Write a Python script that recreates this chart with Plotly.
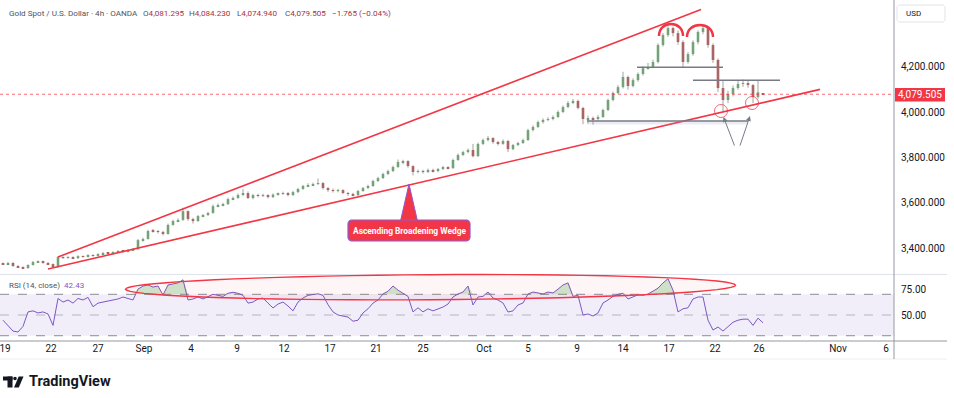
import math
import plotly.graph_objects as go

# ---------------- data (4h candles, sampled) ----------------
closes = [3329, 3334, 3320, 3316, 3311, 3325, 3338, 3340, 3334, 3329,
          3316, 3360, 3356, 3360, 3355, 3364, 3361, 3369, 3365, 3373,
          3378, 3374, 3382, 3387, 3383, 3391, 3395, 3435, 3440, 3475,
          3474, 3471, 3462, 3502, 3519, 3524, 3563, 3528, 3519, 3541,
          3546, 3555, 3585, 3590, 3594, 3616, 3621, 3634, 3643, 3621,
          3634, 3630, 3634, 3625, 3636, 3639, 3643, 3634, 3647, 3661,
          3674, 3678, 3683, 3687, 3665, 3656, 3652, 3656, 3643, 3639,
          3634, 3652, 3665, 3674, 3696, 3709, 3727, 3740, 3758, 3780,
          3784, 3762, 3736, 3740, 3736, 3745, 3740, 3749, 3758, 3753,
          3789, 3811, 3824, 3833, 3806, 3860, 3877, 3886, 3868, 3860,
          3873, 3837, 3855, 3864, 3877, 3921, 3935, 3957, 3966, 3970,
          3979, 4001, 4023, 4041, 4050, 4019, 3970, 3974, 3970, 3979,
          4010, 4054, 4085, 4111, 4156, 4116, 4142, 4169, 4195, 4200,
          4222, 4297, 4341, 4372, 4350, 4310, 4222, 4257, 4310, 4355,
          4372, 4297, 4231, 4107, 4054, 4081, 4107, 4125, 4129, 4120,
          4067, 4088, 4079.505]

opens = [3332, 3329, 3334, 3320, 3316, 3311, 3325, 3338, 3340, 3334,
         3329, 3316, 3360, 3356, 3360, 3355, 3364, 3361, 3369, 3365,
         3373, 3378, 3374, 3382, 3387, 3383, 3391, 3395, 3435, 3440,
         3475, 3474, 3471, 3462, 3502, 3519, 3524, 3563, 3528, 3519,
         3541, 3546, 3555, 3585, 3590, 3594, 3616, 3621, 3634, 3643,
         3621, 3634, 3630, 3634, 3625, 3636, 3639, 3643, 3634, 3647,
         3661, 3674, 3678, 3683, 3687, 3665, 3656, 3652, 3656, 3643,
         3639, 3634, 3652, 3665, 3674, 3696, 3709, 3727, 3740, 3758,
         3780, 3784, 3762, 3736, 3740, 3736, 3745, 3740, 3749, 3758,
         3753, 3789, 3811, 3824, 3833, 3806, 3860, 3877, 3886, 3868,
         3860, 3873, 3837, 3855, 3864, 3877, 3921, 3935, 3957, 3966,
         3970, 3979, 4001, 4023, 4041, 4050, 4019, 3970, 3974, 3970,
         3979, 4010, 4054, 4085, 4111, 4156, 4116, 4142, 4169, 4195,
         4200, 4222, 4297, 4341, 4372, 4350, 4310, 4222, 4257, 4310,
         4355, 4372, 4297, 4231, 4107, 4054, 4081, 4107, 4125, 4129,
         4120, 4067, 4081.295]

highs = [3336, 3338, 3337, 3324, 3319, 3328, 3343, 3345, 3344, 3338,
         3332, 3365, 3364, 3364, 3363, 3368, 3367, 3373, 3372, 3377,
         3383, 3381, 3386, 3391, 3390, 3395, 3400, 3440, 3446, 3481,
         3484, 3480, 3476, 3508, 3525, 3531, 3578, 3566, 3534, 3546,
         3551, 3560, 3592, 3597, 3600, 3622, 3628, 3641, 3660, 3650,
         3639, 3640, 3640, 3638, 3641, 3645, 3649, 3647, 3652, 3666,
         3679, 3686, 3689, 3707, 3692, 3670, 3663, 3662, 3660, 3648,
         3644, 3657, 3670, 3680, 3702, 3715, 3733, 3746, 3764, 3791,
         3790, 3788, 3766, 3747, 3746, 3751, 3750, 3754, 3763, 3762,
         3795, 3818, 3830, 3840, 3860, 3866, 3884, 3895, 3890, 3874,
         3880, 3878, 3860, 3870, 3883, 3927, 3942, 3963, 3973, 3978,
         3986, 4008, 4030, 4050, 4059, 4056, 4024, 3985, 3981, 3988,
         4016, 4060, 4092, 4120, 4179, 4162, 4150, 4176, 4203, 4218,
         4232, 4305, 4350, 4380, 4378, 4362, 4318, 4266, 4318, 4362,
         4381, 4378, 4305, 4238, 4140, 4095, 4118, 4140, 4145, 4140,
         4125, 4141, 4084.23]

lows = [3325, 3327, 3317, 3312, 3307, 3309, 3322, 3334, 3330, 3325,
        3312, 3313, 3351, 3352, 3351, 3352, 3357, 3358, 3361, 3362,
        3370, 3369, 3371, 3379, 3378, 3380, 3387, 3392, 3428, 3437,
        3468, 3464, 3455, 3459, 3498, 3514, 3520, 3520, 3508, 3515,
        3536, 3541, 3551, 3580, 3584, 3590, 3611, 3617, 3630, 3616,
        3615, 3624, 3625, 3619, 3621, 3631, 3634, 3628, 3630, 3643,
        3657, 3669, 3673, 3678, 3658, 3648, 3645, 3646, 3638, 3630,
        3628, 3630, 3648, 3661, 3670, 3692, 3705, 3722, 3735, 3754,
        3770, 3755, 3721, 3730, 3729, 3731, 3734, 3735, 3744, 3747,
        3750, 3785, 3806, 3819, 3800, 3802, 3855, 3871, 3861, 3853,
        3856, 3824, 3832, 3850, 3860, 3873, 3915, 3930, 3950, 3960,
        3964, 3975, 3996, 4018, 4036, 4012, 3947, 3950, 3945, 3962,
        3975, 4005, 4048, 4080, 4105, 4100, 4110, 4135, 4162, 4188,
        4195, 4216, 4290, 4333, 4335, 4298, 4200, 4215, 4250, 4300,
        4345, 4285, 4218, 4090, 4004, 4040, 4070, 4100, 4112, 4108,
        4040, 4060, 4074.94]

rsi = [45, 39.4, 34.5, 33.6, 39, 53, 54, 52, 53, 51,
       40, 66, 62.5, 64.5, 61.5, 66, 64.5, 67, 58, 61.5,
       62.5, 63.5, 64.5, 65.5, 67.4, 66, 64.5, 75, 78, 79,
       77, 78, 69.3, 79, 80, 81, 84, 64.5, 65.5, 67.4,
       65.5, 68, 70, 69, 68, 71, 72, 71, 69, 61.5,
       62.5, 65.5, 66.4, 61.5, 56.8, 60.6, 62.5, 58.7, 54, 62.5,
       66.4, 69, 70, 70.5, 69, 60, 53, 50, 49, 48,
       44, 45, 52, 56, 61.5, 64.5, 70.3, 73, 78, 74,
       71, 68, 53, 57, 53, 56, 54, 56, 57.7, 60.6,
       67.4, 70.3, 72.2, 78, 59.7, 67.4, 68, 72.2, 66.4, 64.5,
       61.6, 52.9, 54, 59.7, 61.6, 70.3, 72.2, 71.3, 70.3, 72.2,
       71.3, 75, 79, 81, 68, 69, 50, 51, 49, 52,
       61.6, 64.5, 68, 70, 71, 65.5, 67.4, 69.5, 69, 70.3,
       73, 76, 81, 85, 74, 53, 56, 57, 65.5, 67.4,
       67.4, 45, 35.5, 38.4, 34.5, 38.4, 43, 45, 46, 46,
       40, 47, 42.43]

date_labels = ["19", "22", "27", "Sep", "4", "9", "12", "17", "21", "25",
               "Oct", "5", "9", "14", "17", "22", "26", "Nov", "6"]
date_pos = [0.4, 9.6, 19, 28.2, 37.6, 46.8, 56.2, 65.4, 74.6, 84,
            96.2, 105, 114.8, 124, 133.2, 142.4, 151.2, 167, 176.6]

price_ticks = [3400, 3600, 3800, 4000, 4200]
price_labels = ["3,400.000", "3,600.000", "3,800.000", "4,000.000", "4,200.000"]
rsi_ticks = [75, 50]
rsi_labels = ["75.00", "50.00"]
last_price = 4079.505

# header readouts of the last candle
ohlc_keys = ["O", "H", "L", "C"]
ohlc_vals = ["4,081.295", "4,084.230", "4,074.940", "4,079.505"]
change_text = "−1.765 (−0.04%)"

# ---------------- geometry helpers (pixel -> paper) ----------------
PW, PH = 894.0, 341.0


def px(x):
    return x / PW


def py(y):
    return (PH - y) / PH


def path(points, close=False):
    s = "M" + " L".join(f"{px(a):.5f},{py(b):.5f}" for a, b in points)
    return s + (" Z" if close else "")


N = len(closes)
idx = list(range(N))
XR = [-0.6, 178.2]

UP = "#4a9d50"
DOWN = "#a82b2b"
RED = "#f23645"
GRAY = "#787b86"
FONT = "Roboto, sans-serif"

fig = go.Figure()

# wicks
wx, wy = [], []
for i in idx:
    wx += [i, i, None]
    wy += [lows[i], highs[i], None]
fig.add_trace(go.Scatter(x=wx, y=wy, mode="lines", line=dict(color="#a3a3a3", width=1),
                         hoverinfo="skip", xaxis="x", yaxis="y"))

# bodies
body_base = [min(o, c) for o, c in zip(opens, closes)]
body_h = [max(abs(c - o), 2.0) for o, c in zip(opens, closes)]
body_col = [UP if c >= o else DOWN for o, c in zip(opens, closes)]
fig.add_trace(go.Bar(x=idx, y=body_h, base=body_base, width=0.5,
                     marker=dict(color=body_col, line=dict(width=0)),
                     hoverinfo="skip", xaxis="x", yaxis="y"))

# RSI overbought fill
fig.add_trace(go.Scatter(x=idx, y=[70] * N, mode="lines", line=dict(width=0),
                         hoverinfo="skip", xaxis="x2", yaxis="y2"))
fig.add_trace(go.Scatter(x=idx, y=[max(v, 70) for v in rsi], mode="lines", line=dict(width=0),
                         fill="tonexty", fillcolor="rgba(76,175,80,0.28)",
                         hoverinfo="skip", xaxis="x2", yaxis="y2"))
fig.add_trace(go.Scatter(x=idx, y=rsi, mode="lines", line=dict(color="#7e57c2", width=1),
                         hoverinfo="skip", xaxis="x2", yaxis="y2"))

shapes = []
# RSI band and levels
shapes.append(dict(type="rect", xref="x2 domain", yref="y2", x0=0, x1=1, y0=30, y1=70,
                   fillcolor="rgba(126,87,194,0.10)", line=dict(width=0), layer="below"))
for lvl, col in [(70, "#8a8d96"), (50, "#b2b5be"), (30, "#8a8d96")]:
    shapes.append(dict(type="line", xref="x2 domain", yref="y2", x0=0, x1=1, y0=lvl, y1=lvl,
                       line=dict(color=col, width=1, dash="dash"), layer="below"))

# frame lines
shapes.append(dict(type="line", xref="paper", yref="paper", x0=px(0), x1=px(947), y0=py(274.5), y1=py(274.5),
                   line=dict(color="#e0e3eb", width=1)))
shapes.append(dict(type="line", xref="paper", yref="paper", x0=px(0), x1=px(947), y0=py(341), y1=py(341),
                   line=dict(color="#9598a1", width=1)))
shapes.append(dict(type="line", xref="paper", yref="paper", x0=px(0), x1=px(947), y0=py(359), y1=py(359),
                   line=dict(color="#eceef2", width=1)))
shapes.append(dict(type="line", xref="paper", yref="paper", x0=px(894), x1=px(894), y0=py(0), y1=py(359),
                   line=dict(color="#9598a1", width=1)))

# current price dotted line
shapes.append(dict(type="line", xref="x domain", yref="y", x0=0, x1=1, y0=last_price, y1=last_price,
                   line=dict(color="rgba(242,54,69,0.75)", width=1, dash="dot")))

# wedge lines
shapes.append(dict(type="path", xref="paper", yref="paper", path=path([(58, 257), (701, 9.5)]),
                   line=dict(color=RED, width=1.6)))
shapes.append(dict(type="path", xref="paper", yref="paper", path=path([(48, 269), (820, 89.4)]),
                   line=dict(color=RED, width=1.6)))

# horizontal levels
shapes.append(dict(type="rect", xref="paper", yref="paper", x0=px(587), x1=px(748), y0=py(124.5), y1=py(121),
                   fillcolor="rgba(149,152,200,0.18)", line=dict(width=0)))
for (xa, xb, yy) in [(637, 723, 67.3), (693, 780, 80.3), (587, 748, 121)]:
    shapes.append(dict(type="path", xref="paper", yref="paper", path=path([(xa, yy), (xb, yy)]),
                       line=dict(color=GRAY, width=1.5)))

# head arcs
for (xa, xb, yb) in [(659, 683, 36), (687, 713, 37)]:
    p = (f"M{px(xa):.5f},{py(yb):.5f} C{px(xa):.5f},{py(yb - 16):.5f} "
         f"{px(xb):.5f},{py(yb - 16):.5f} {px(xb):.5f},{py(yb):.5f}")
    shapes.append(dict(type="path", xref="paper", yref="paper", path=p, line=dict(color=RED, width=2.5)))

# circles at lows
for (cx, cy) in [(721, 111), (752, 103)]:
    shapes.append(dict(type="circle", xref="paper", yref="paper", x0=px(cx - 6.5), x1=px(cx + 6.5),
                       y0=py(cy + 6.5), y1=py(cy - 6.5), line=dict(color="rgba(242,54,69,0.75)", width=1)))

# RSI ellipse
cxe, cye, ae, be = 430.5, 287.2, 305, 12.5
th = math.atan2(-4, 609)
pts = []
for k in range(73):
    t = 2 * math.pi * k / 72
    xx = cxe + ae * math.cos(t) * math.cos(th) - be * math.sin(t) * math.sin(th)
    yy = cye + ae * math.cos(t) * math.sin(th) + be * math.sin(t) * math.cos(th)
    pts.append((xx, yy))
shapes.append(dict(type="path", xref="paper", yref="paper", path=path(pts, close=True),
                   fillcolor="rgba(242,54,69,0.05)", line=dict(color=RED, width=1.4)))

# label box with spike
shapes.append(dict(type="path", xref="paper", yref="paper",
                   path=path([(400.5, 221), (409, 184), (417.5, 221)], close=True),
                   fillcolor=RED, line=dict(color="#8e5bd6", width=1)))


def rrect(x0, y0, x1, y1, r):
    pts = []
    for (ccx, ccy, a0) in [(x1 - r, y0 + r, -90), (x1 - r, y1 - r, 0), (x0 + r, y1 - r, 90), (x0 + r, y0 + r, 180)]:
        for j in range(7):
            a = math.radians(a0 + 15 * j)
            pts.append((ccx + r * math.cos(a), ccy + r * math.sin(a)))
    return path(pts, close=True)


shapes.append(dict(type="path", xref="paper", yref="paper", path=rrect(348, 220, 470, 241, 4),
                   fillcolor=RED, line=dict(color="#8e5bd6", width=1.2)))

# right-axis price label
shapes.append(dict(type="rect", xref="paper", yref="paper", x0=px(895), x1=px(945), y0=py(101.5), y1=py(88),
                   fillcolor=RED, line=dict(width=0)))
# USD box
shapes.append(dict(type="path", xref="paper", yref="paper", path=rrect(897, 5, 945, 22, 3),
                   fillcolor="white", line=dict(color="#e0e3eb", width=1)))

# TradingView logo mark
LOGO = "#131722"
shapes.append(dict(type="rect", xref="paper", yref="paper", x0=px(3), x1=px(12.5), y0=py(380.5), y1=py(376.5),
                   fillcolor=LOGO, line=dict(width=0)))
shapes.append(dict(type="rect", xref="paper", yref="paper", x0=px(7.5), x1=px(12.5), y0=py(387.5), y1=py(376.5),
                   fillcolor=LOGO, line=dict(width=0)))
shapes.append(dict(type="circle", xref="paper", yref="paper", x0=px(13.2), x1=px(16.8), y0=py(380.3), y1=py(376.7),
                   fillcolor=LOGO, line=dict(width=0)))
shapes.append(dict(type="path", xref="paper", yref="paper",
                   path=path([(14, 387.5), (18.8, 387.5), (23.5, 376.5), (18.7, 376.5)], close=True),
                   fillcolor=LOGO, line=dict(width=0)))

annotations = []
hdr_red = "#a8323a"
hdr_gray = "#50535e"
HDR = 8.1
annotations.append(dict(xref="paper", yref="paper", x=px(7), y=py(13.5), xanchor="left", yanchor="middle",
                        text="Gold Spot / U.S. Dollar · 4h · OANDA", showarrow=False,
                        font=dict(size=HDR, family=FONT, color=hdr_gray)))
for (xpos, key, val) in zip([141, 187, 235, 283], ohlc_keys, ohlc_vals):
    annotations.append(dict(xref="paper", yref="paper", x=px(xpos), y=py(13.5), xanchor="left", yanchor="middle",
                            text=f'<span style="color:{hdr_gray}">{key}</span><span style="color:{hdr_red}">{val}</span>',
                            showarrow=False, font=dict(size=HDR, family=FONT)))
annotations.append(dict(xref="paper", yref="paper", x=px(330), y=py(13.5), xanchor="left", yanchor="middle",
                        text=change_text, showarrow=False, font=dict(size=HDR, family=FONT, color=hdr_red)))
annotations.append(dict(xref="paper", yref="paper", x=px(7), y=py(285.5), xanchor="left", yanchor="middle",
                        text=f'<span style="color:{hdr_gray}">RSI (14, close)</span>\u2002'
                             f'<span style="color:#7e57c2">{rsi[-1]:.2f}</span>',
                        showarrow=False, font=dict(size=8, family=FONT)))
annotations.append(dict(xref="paper", yref="paper", x=px(409), y=py(230.8), xanchor="center", yanchor="middle",
                        text="<b>Ascending Broadening Wedge</b>", showarrow=False,
                        font=dict(size=8.4, color="white", family=FONT)))
annotations.append(dict(xref="paper", yref="paper", x=px(920), y=py(94.8), xanchor="center", yanchor="middle",
                        text=f"{last_price:,.3f}", showarrow=False,
                        font=dict(size=10, color="white", family=FONT)))
annotations.append(dict(xref="paper", yref="paper", x=px(904), y=py(13.5), xanchor="left", yanchor="middle",
                        text="USD", showarrow=False,
                        font=dict(size=8, color="#131722", family=FONT)))
annotations.append(dict(xref="paper", yref="paper", x=px(27), y=py(381.5), xanchor="left", yanchor="middle",
                        text="<b>TradingView</b>", showarrow=False,
                        font=dict(size=14.5, color=LOGO, family=FONT)))
for (hx, hy, tx, ty) in [(723.5, 117, 735, 147), (750, 116, 739.5, 147)]:
    annotations.append(dict(xref="paper", yref="paper", x=px(hx), y=py(hy), ax=tx - hx, ay=ty - hy,
                            axref="pixel", ayref="pixel", text="", showarrow=True, arrowhead=2,
                            arrowsize=1, arrowwidth=1, arrowcolor=GRAY))

axis_font = dict(size=10, color="#131722", family=FONT)
fig.update_layout(
    width=954, height=398,
    margin=dict(l=0, r=60, t=0, b=57),
    paper_bgcolor="white", plot_bgcolor="white",
    showlegend=False, barmode="overlay",
    xaxis=dict(domain=[0, 1], range=XR, anchor="y", showticklabels=False, showgrid=False,
               zeroline=False, showline=False, ticks=""),
    yaxis=dict(domain=[0.19941, 1], range=[3289.5, 4496.1], side="right", anchor="x",
               tickvals=price_ticks, ticktext=price_labels, showgrid=False, zeroline=False,
               showline=False, ticks="", tickfont=axis_font, ticklabelstandoff=6),
    xaxis2=dict(domain=[0, 1], range=XR, anchor="y2", tickvals=date_pos, ticktext=date_labels,
                showgrid=False, zeroline=False, showline=False, ticks="", tickfont=axis_font,
                ticklabeloverflow="allow"),
    yaxis2=dict(domain=[0, 0.19355], range=[24.9, 88.65], side="right", anchor="x2",
                tickvals=rsi_ticks, ticktext=rsi_labels, showgrid=False, zeroline=False,
                showline=False, ticks="", tickfont=axis_font, ticklabelstandoff=6),
    shapes=shapes,
    annotations=annotations,
)

fig.write_html("out.html", config={"displayModeBar": False},
               post_script="document.body.style.margin='0';document.body.style.overflow='hidden';")
